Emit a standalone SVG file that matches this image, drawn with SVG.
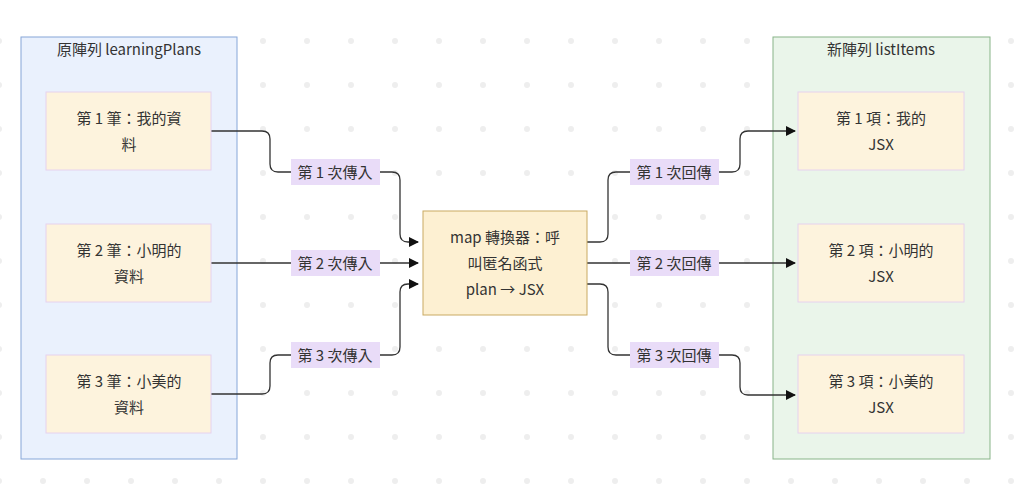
<svg xmlns="http://www.w3.org/2000/svg" width="1024" height="490" viewBox="0 0 1024 490">
<style>
text{font-family:"Noto Sans CJK TC","Noto Sans",sans-serif;font-size:15px;fill:#333;text-anchor:middle}
.cl{stroke-width:1}
.nd{fill:#fdf3dd;stroke:#e6d2ee;stroke-width:1}
.e{fill:none;stroke:#333;stroke-width:1.3}
.lb{fill:#e9dcf8}
</style>
<defs>
<pattern id="dots" x="0" y="0" width="44" height="44" patternUnits="userSpaceOnUse" patternTransform="translate(-1,-3)">
<circle cx="0" cy="0" r="3" fill="#eeeeee"/><circle cx="44" cy="0" r="3" fill="#eeeeee"/><circle cx="0" cy="44" r="3" fill="#eeeeee"/><circle cx="44" cy="44" r="3" fill="#eeeeee"/>
</pattern>
<marker id="ar" viewBox="0 0 10 10" refX="9" refY="5" markerWidth="10" markerHeight="10" markerUnits="userSpaceOnUse" orient="auto"><path d="M0,0L10,5L0,10z" fill="#111"/></marker>
</defs>
<rect width="1024" height="490" fill="#fff"/>
<rect width="1024" height="490" fill="url(#dots)"/>
<g id="cluster-left"><rect x="21" y="37" width="216" height="422" fill="#eaf1fd" stroke="#86a6d8"/><text x="129" y="55">原陣列 learningPlans</text></g>
<g id="cluster-right"><rect x="773" y="37" width="217" height="422" fill="#eaf5ea" stroke="#88b488"/><text x="881" y="55">新陣列 listItems</text></g>
<g id="connectors">
<path class="e" d="M211,131H262Q270,131 270,139V164Q270,172 278,172H392Q400,172 400,180V234Q400,242 408,242H418" marker-end="url(#ar)"/>
<path class="e" d="M211,263H418" marker-end="url(#ar)"/>
<path class="e" d="M211,394H262Q270,394 270,386V363Q270,355 278,355H392Q400,355 400,347V292Q400,284 408,284H418" marker-end="url(#ar)"/>
<path class="e" d="M587,242H600Q608,242 608,234V180Q608,172 616,172H732Q740,172 740,164V139Q740,131 748,131H795" marker-end="url(#ar)"/>
<path class="e" d="M587,263H795" marker-end="url(#ar)"/>
<path class="e" d="M587,284H600Q608,284 608,292V347Q608,355 616,355H732Q740,355 740,363V387Q740,395 748,395H795" marker-end="url(#ar)"/>
<rect class="lb" x="291" y="159" width="89" height="26"/><text x="335" y="178">第 1 次傳入</text>
<rect class="lb" x="291" y="250" width="89" height="26"/><text x="335" y="269">第 2 次傳入</text>
<rect class="lb" x="291" y="342" width="89" height="26"/><text x="335" y="361">第 3 次傳入</text>
<rect class="lb" x="630" y="159" width="89" height="26"/><text x="674" y="178">第 1 次回傳</text>
<rect class="lb" x="630" y="250" width="89" height="26"/><text x="674" y="269">第 2 次回傳</text>
<rect class="lb" x="630" y="342" width="89" height="26"/><text x="674" y="361">第 3 次回傳</text>
</g>
<g id="n1"><rect class="nd" x="46" y="92" width="165" height="78"/><text x="129" y="124">第 1 筆：我的資</text><text x="129" y="150">料</text></g>
<g id="n2"><rect class="nd" x="46" y="224" width="165" height="78"/><text x="129" y="256">第 2 筆：小明的</text><text x="129" y="282">資料</text></g>
<g id="n3"><rect class="nd" x="46" y="355" width="165" height="78"/><text x="129" y="387">第 3 筆：小美的</text><text x="129" y="413">資料</text></g>
<g id="map"><rect x="423" y="211" width="164" height="104" fill="#fdf0d2" stroke="#c9aa62"/><text x="505" y="243">map 轉換器：呼</text><text x="505" y="269">叫匿名函式</text><text x="505" y="295">plan → JSX</text></g>
<g id="r1"><rect class="nd" x="798" y="92" width="166" height="78"/><text x="881" y="124">第 1 項：我的</text><text x="881" y="150">JSX</text></g>
<g id="r2"><rect class="nd" x="798" y="224" width="166" height="78"/><text x="881" y="256">第 2 項：小明的</text><text x="881" y="282">JSX</text></g>
<g id="r3"><rect class="nd" x="798" y="355" width="166" height="78"/><text x="881" y="387">第 3 項：小美的</text><text x="881" y="413">JSX</text></g>
</svg>
